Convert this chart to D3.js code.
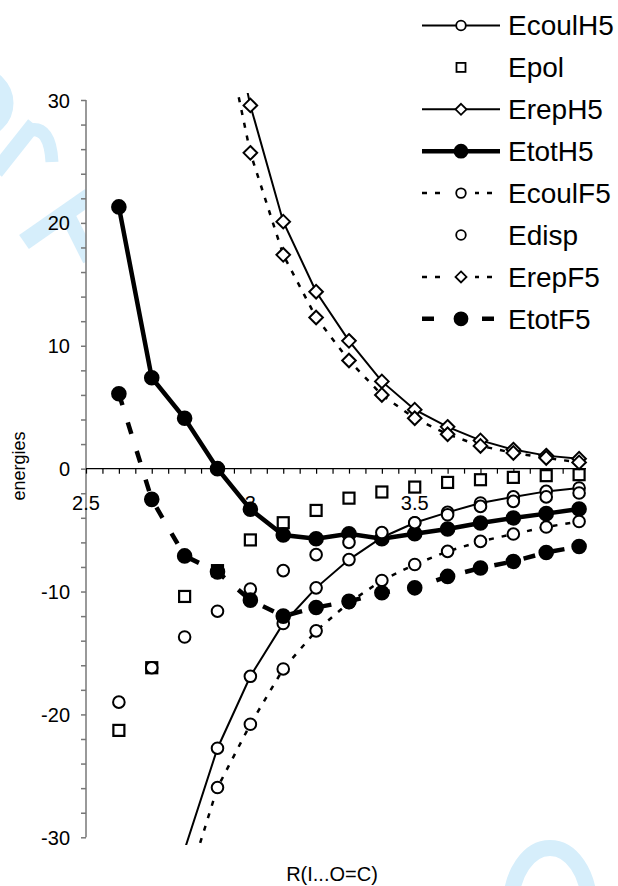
<!DOCTYPE html>
<html><head><meta charset="utf-8">
<script src="https://cdn.jsdelivr.net/npm/d3@7"></script>
<style>html,body{margin:0;padding:0;background:#fff}svg{display:block}</style>
</head><body>
<svg id="c" width="618" height="886"></svg>
<script>
const xValues = [2.6,2.7,2.8,2.9,3.0,3.1,3.2,3.3,3.4,3.5,3.6,3.7,3.8,3.9,4.0];
const EcoulH5 = [null,null,-31.0,-22.75,-16.9,-12.6,-9.7,-7.4,-5.6,-4.4,-3.56,-2.79,-2.3,-1.85,-1.57];
const Epol    = [-21.3,-16.2,-10.4,-8.3,-5.8,-4.4,-3.4,-2.4,-1.9,-1.5,-1.12,-0.9,-0.71,-0.57,-0.49];
const ErepH5  = [null,null,null,42,29.56,20.1,14.4,10.4,7.1,4.8,3.4,2.3,1.55,1.06,0.81];
const EtotH5  = [21.3,7.4,4.1,0.0,-3.3,-5.4,-5.7,-5.3,-5.7,-5.3,-4.91,-4.42,-4.01,-3.66,-3.28];
const EcoulF5 = [null,null,-34.5,-25.95,-20.8,-16.3,-13.2,-10.9,-9.1,-7.8,-6.73,-5.92,-5.32,-4.75,-4.3];
const Edisp   = [-19.0,-16.2,-13.7,-11.6,-9.8,-8.3,-7.0,-6.0,-5.2,-4.4,-3.75,-3.07,-2.66,-2.3,-1.98];
const ErepF5  = [null,null,null,38.5,25.7,17.4,12.3,8.8,6.0,4.1,2.8,1.85,1.28,0.87,0.51];
const EtotF5  = [6.1,-2.5,-7.1,-8.4,-10.7,-12.0,-11.3,-10.8,-10.1,-9.7,-8.77,-8.09,-7.55,-6.82,-6.33];
const xTickLabels = ["2.5","3","3.5"];
const xTickValues = [2.5,3,3.5];
const yTickValues = [-30,-20,-10,0,10,20,30];
const yTickLabels = ["-30","-20","-10","0","10","20","30"];
const seriesNames = ["EcoulH5","Epol","ErepH5","EtotH5","EcoulF5","Edisp","ErepF5","EtotF5"];
const xTitle = "R(I...O=C)";
const yTitle = "energies";

const FONT = "'Liberation Sans', Arial, sans-serif";
const styles = {
  EcoulH5:{line:true, width:2, dash:null, marker:"circle", fill:"#fff"},
  Epol:{line:false, marker:"square", fill:"#fff"},
  ErepH5:{line:true, width:2, dash:null, marker:"diamond", fill:"#fff"},
  EtotH5:{line:true, width:4.5, dash:null, marker:"circle", fill:"#000"},
  EcoulF5:{line:true, width:2.5, dash:"5,8", marker:"circle", fill:"#fff"},
  Edisp:{line:false, marker:"circle", fill:"#fff"},
  ErepF5:{line:true, width:2.5, dash:"5,8", marker:"diamond", fill:"#fff"},
  EtotF5:{line:true, width:4.5, dash:"12,18", marker:"circle", fill:"#000"}
};
const values = {EcoulH5,Epol,ErepH5,EtotH5,EcoulF5,Edisp,ErepF5,EtotF5};

const svg = d3.select("#c");
const x = d3.scaleLinear().domain([2.5, 4.021]).range([86, 586]);
const y = d3.scaleLinear().domain([-30, 30]).range([837.3, 100]);

// light-blue watermark fragments (background decoration, behind plot area)
const wm = svg.append("g").attr("fill","none").attr("stroke","#d6eefb");
wm.append("circle").attr("cx",-22).attr("cy",103).attr("r",28).attr("stroke-width",15);
wm.append("path").attr("d","M-4,172L34,124").attr("stroke-width",15);
wm.append("path").attr("d","M30,130Q50,126 52,162").attr("stroke-width",13);
wm.append("path").attr("d","M24,242L90,196").attr("stroke-width",17);
wm.append("path").attr("d","M66,212L90,260").attr("stroke-width",15);
wm.append("ellipse").attr("cx",550).attr("cy",905).attr("rx",39).attr("ry",57).attr("stroke-width",16);

// plot area white
svg.append("rect").attr("x",86).attr("y",93).attr("width",500).attr("height",747).attr("fill","#fff");

svg.append("defs").append("clipPath").attr("id","clip")
  .append("rect").attr("x",86).attr("y",93).attr("width",502).attr("height",752);

// axes
const yAxis = d3.axisLeft(y).tickValues(d3.range(-30,30.01,2)).tickSize(5)
  .tickFormat(d => { const i = yTickValues.indexOf(Math.round(d)); return (Math.abs(d - Math.round(d))<1e-6 && i>=0) ? yTickLabels[i] : ""; });
const gy = svg.append("g").attr("transform","translate(86,0)").call(yAxis);
gy.select(".domain").attr("stroke","#777").attr("stroke-width",1.5).attr("d","M-0,100V837.3");
gy.selectAll(".tick line").attr("stroke","#777").attr("stroke-width",1.5);
gy.selectAll(".tick text").attr("font-family",FONT).attr("font-size",20).attr("fill","#000").attr("x",-16).attr("dy","0.35em");

const xMinor = d3.range(2.5, 4.0001, 0.05);
const xAxis = d3.axisBottom(x).tickValues(xMinor).tickSize(5).tickFormat("");
const gx = svg.append("g").attr("transform",`translate(0,${y(0)})`).call(xAxis);
gx.select(".domain").attr("stroke","#000").attr("stroke-width",1.2).attr("d","M86,0H586");
gx.selectAll(".tick line").attr("stroke","#000").attr("stroke-width",1.2);
svg.append("g").selectAll("text").data(xTickValues).join("text")
  .attr("x",d=>x(d)).attr("y",y(0)+41).attr("text-anchor","middle")
  .attr("font-family",FONT).attr("font-size",20).text((d,i)=>xTickLabels[i]);

// titles
svg.append("text").attr("x",332).attr("y",881).attr("text-anchor","middle")
  .attr("font-family",FONT).attr("font-size",20).text(xTitle);
svg.append("text").attr("transform","translate(25,466) rotate(-90)").attr("text-anchor","middle")
  .attr("font-family",FONT).attr("font-size",18).text(yTitle);

function drawMarker(g, type, cx, cy, fill, s) {
  if (type==="circle") {
    g.append("circle").attr("cx",cx).attr("cy",cy).attr("r",s.r)
      .attr("fill",fill).attr("stroke","#000").attr("stroke-width",s.sw);
  } else if (type==="square") {
    g.append("rect").attr("x",cx-s.h).attr("y",cy-s.h).attr("width",2*s.h).attr("height",2*s.h)
      .attr("fill",fill).attr("stroke","#000").attr("stroke-width",s.sw);
  } else if (type==="diamond") {
    const d = s.d;
    g.append("path").attr("d",`M${cx},${cy-d}L${cx+d},${cy}L${cx},${cy+d}L${cx-d},${cy}Z`)
      .attr("fill",fill).attr("stroke","#000").attr("stroke-width",s.sw);
  }
}

const plot = svg.append("g");
seriesNames.forEach(name => {
  const st = styles[name];
  const pts = xValues.map((xv,i)=>({x:xv, v:values[name][i]})).filter(p=>p.v!==null);
  const g = plot.append("g");
  if (st.line) {
    g.append("path").datum(pts)
      .attr("clip-path","url(#clip)")
      .attr("d", d3.line().x(p=>x(p.x)).y(p=>y(p.v)))
      .attr("fill","none").attr("stroke","#000").attr("stroke-width",st.width)
      .attr("stroke-dasharray", st.dash);
  }
  pts.filter(p=>p.v>=-30 && p.v<=30).forEach(p=>{
    const sz = st.marker==="square" ? {h:5.5, sw:2.2} : st.marker==="diamond" ? {d:6.8, sw:2} : {r:st.fill==="#000"?6.8:5.8, sw:2};
    drawMarker(g, st.marker, x(p.x), y(p.v), st.fill, sz);
  });
});

// legend
const lg = svg.append("g");
seriesNames.forEach((name,i)=>{
  const st = styles[name];
  const cy = 25.5 + i*41.9;
  if (st.line) {
    lg.append("line").attr("x1",422).attr("x2",500).attr("y1",cy).attr("y2",cy)
      .attr("stroke","#000").attr("stroke-width",st.width).attr("stroke-dasharray",st.dash);
  }
  const sz = st.marker==="square" ? {h:4.5, sw:1.8} : st.marker==="diamond" ? {d:5.5, sw:1.8} : {r:st.fill==="#000"?6.5:4.8, sw:1.8};
  if (st.dash) lg.append("rect").attr("x",447).attr("y",cy-8).attr("width",28).attr("height",16).attr("fill","#fff");
  drawMarker(lg, st.marker, 461, cy, st.fill, sz);
  lg.append("text").attr("x",508).attr("y",cy).attr("dy","0.35em")
    .attr("font-family",FONT).attr("font-size",28).text(name);
});
</script>
</body></html>
